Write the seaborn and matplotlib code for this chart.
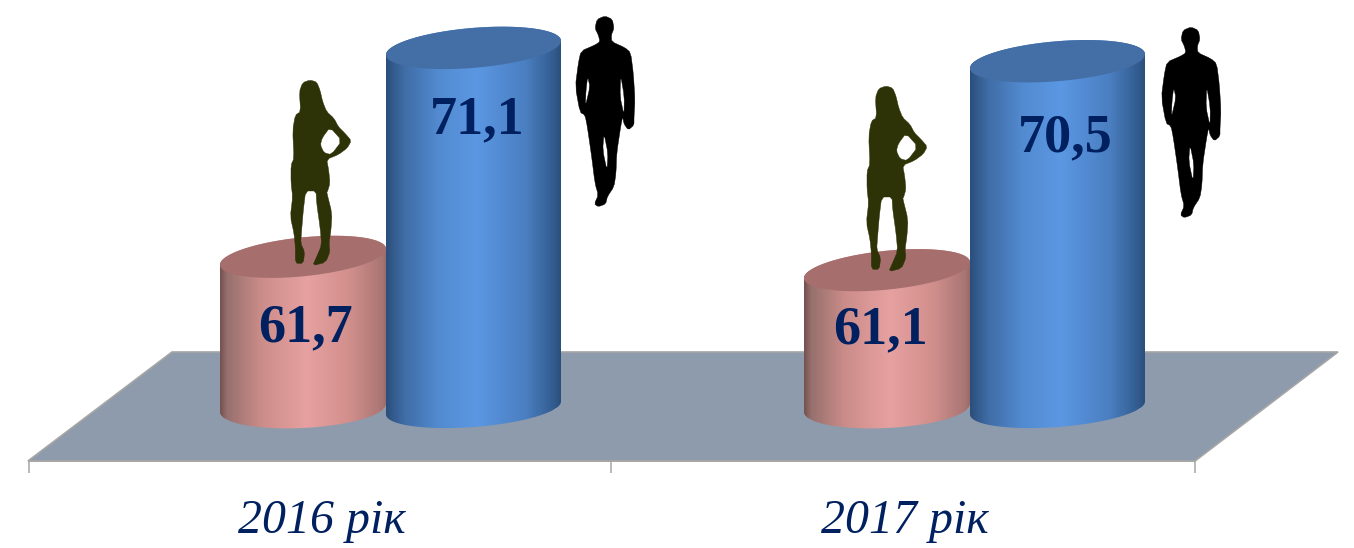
import numpy as np
import pandas as pd
import matplotlib
matplotlib.use('Agg')
import matplotlib.pyplot as plt
import seaborn as sns
from matplotlib.colors import LinearSegmentedColormap
from matplotlib.patches import PathPatch, Polygon
from matplotlib.path import Path

# data
years = ['2016 рік', '2017 рік']
women = [61.7, 61.1]
men = [71.1, 70.5]
value_labels_px = {'Ж': [(306, 328), (880, 330)], 'Ч': [(477, 120), (1065, 138)]}

df = pd.DataFrame({
    'year': years * 2,
    'sex': ['Ж'] * 2 + ['Ч'] * 2,
    'value': women + men,
})

# scale of the picture
W, H = 1354, 548
BASE = 54.9        # value where the cylinders start
BASE_PX = 408
PX_VALUE = 22.23   # pixels per unit of value
PX_CAT = 584       # pixels per category
CAT0_PX = 386


def xd(px):
    return (np.asarray(px, dtype=float) - CAT0_PX) / PX_CAT


def yd(px):
    return BASE + (BASE_PX - np.asarray(px, dtype=float)) / PX_VALUE


sns.set_theme(style='white')
plt.rcParams['font.family'] = ['Liberation Serif', 'DejaVu Serif']
NAVY = '#002060'

fig = plt.figure(figsize=(W / 100, H / 100), dpi=100, facecolor='white')
ax = fig.add_axes([0, 0, 1, 1])

sns.barplot(data=df, x='year', y='value', hue='sex', order=years, hue_order=['Ж', 'Ч'],
            palette=['#e6a1a0', '#5b97e3'], dodge=True, gap=0, width=0.586,
            legend=False, ax=ax, saturation=1)

# floor
floor = Polygon(np.c_[xd([172, 1338, 1195, 28]), yd([352, 352, 461, 461])],
                closed=True, fc='#8e9bac', ec='#a5a5a5', lw=1.2, zorder=0.5)
ax.add_patch(floor)

pink_cmap = LinearSegmentedColormap.from_list('pink', [
    (0, '#74504e'), (0.04, '#96706d'), (0.25, '#cc8d8a'), (0.52, '#e6a1a0'),
    (0.78, '#d18f8c'), (0.97, '#a97674'), (1, '#9a6a68')])
blue_cmap = LinearSegmentedColormap.from_list('blue', [
    (0, '#2b4f7c'), (0.1, '#3f6ca5'), (0.3, '#528bd0'), (0.52, '#5b97e3'),
    (0.8, '#4a7fc1'), (0.96, '#325c90'), (1, '#2b4f7c')])

styles = [
    dict(cmap=pink_cmap, face='#a66f6d', half_w=83 / PX_CAT, b_top=19.5, skew_top=8,
         b_bot=20, skew_bot=4, side='left', z=3),
    dict(cmap=blue_cmap, face='#436fa6', half_w=87.5 / PX_CAT, b_top=20, skew_top=7,
         b_bot=19, skew_bot=6.5, side='right', z=4),
]

for cont, st in zip(ax.containers, styles):
    for bar in cont:
        val = bar.get_height()
        w = st['half_w'] * 2
        # inner edge of the bar stays at the middle of the group
        if st['side'] == 'left':
            x0 = bar.get_x() + bar.get_width() - w
        else:
            x0 = bar.get_x()
        bar.set_x(x0)
        bar.set_width(w)
        bar.set_y(BASE)
        bar.set_height(val - BASE)
        bar.set_zorder(st['z'])
        xc = x0 + w / 2

        # tilted ellipses for the ends of the cylinder
        t = np.linspace(0, 2 * np.pi, 181)
        ex = xc + st['half_w'] * np.cos(t)
        top_y = (st['b_top'] * np.sin(t) + st['skew_top'] * np.cos(t)) / PX_VALUE
        bot_y = (st['b_bot'] * np.sin(t) + st['skew_bot'] * np.cos(t)) / PX_VALUE
        upper = t <= np.pi
        lower = t >= np.pi
        body = np.r_[np.c_[ex[upper], val + top_y[upper]], np.c_[ex[lower], BASE + bot_y[lower]]]
        clip = Polygon(body, closed=True, transform=ax.transData, fc='none', ec='none')
        ax.add_patch(clip)
        bar.set_clip_path(clip)

        grad = np.linspace(0, 1, 256).reshape(1, -1)
        im = ax.imshow(grad, cmap=st['cmap'], aspect='auto', zorder=st['z'] + 0.1,
                       extent=[x0, x0 + w, BASE - 2, val + 2])
        im.set_clip_path(clip)

        ax.fill(ex, val + top_y, fc=st['face'], ec='none', zorder=st['z'] + 0.2)

# silhouettes, traced outline in a local 3x grid
woman_outer = [(300, 30), (320, 36), (330, 60), (338, 95), (350, 125), (372, 145), (385, 170), (405, 190),
               (424, 212), (412, 234), (385, 254), (350, 268), (356, 300), (360, 340), (352, 366), (350, 366),
               (366, 430), (363, 480), (357, 520), (360, 545), (347, 577), (308, 587), (320, 560), (335, 525),
               (330, 470), (320, 400), (318, 363), (287, 363), (280, 420), (275, 480), (272, 520), (284, 545),
               (280, 580), (256, 580), (256, 530), (252, 490), (241, 440), (248, 380), (243, 340), (243, 285),
               (252, 265), (248, 180), (256, 135), (272, 125), (268, 65), (278, 38)]
woman_holes = [[(360, 172), (396, 212), (364, 254), (342, 248), (331, 225), (337, 203)]]
man_outer = [(165, 18), (187, 28), (192, 55), (184, 75), (185, 95), (225, 113), (242, 128), (250, 190),
             (255, 270), (252, 320), (252, 345), (235, 360), (222, 342), (218, 320), (212, 350), (200, 430),
             (198, 490), (192, 530), (172, 560), (167, 582), (145, 590), (133, 582), (145, 555), (135, 520),
             (125, 440), (112, 350), (105, 315), (90, 307), (76, 230), (85, 160), (93, 123), (135, 105),
             (150, 95), (145, 75), (135, 55), (141, 28)]
man_holes = [[(162, 370), (174, 430), (171, 482), (158, 420)],
             [(113, 200), (120, 230), (106, 290), (108, 240)],
             [(212, 195), (223, 260), (222, 315), (210, 260)]]


def smooth(ring):
    # one pass of corner cutting so the traced outline is not angular
    ring = np.array(ring, dtype=float)
    nxt = np.roll(ring, -1, axis=0)
    return np.c_[0.8 * ring + 0.2 * nxt, 0.2 * ring + 0.8 * nxt].reshape(-1, 2)


def area(ring):
    x, y = ring[:, 0], ring[:, 1]
    return 0.5 * np.sum(x * np.roll(y, -1) - np.roll(x, -1) * y)


def silhouette(outer, holes, ox, oy, color):
    verts, codes = [], []
    sign = np.sign(area(np.array(outer, dtype=float)))
    for i, ring in enumerate([outer] + holes):
        ring = smooth(ring)
        # holes must run against the outer ring
        if i > 0 and np.sign(area(ring)) == sign:
            ring = ring[::-1]
        px = np.c_[xd(ox + ring[:, 0] / 3), yd(oy + ring[:, 1] / 3)]
        verts += list(px) + [px[0]]
        codes += [Path.MOVETO] + [Path.LINETO] * (len(px) - 1) + [Path.CLOSEPOLY]
    ax.add_patch(PathPatch(Path(verts, codes), fc=color, ec=color, lw=0.3, joinstyle='round', zorder=6))


silhouette(woman_outer, woman_holes, 210, 70, '#2e3207')
silhouette(woman_outer, woman_holes, 786, 76, '#2e3207')
silhouette(man_outer, man_holes, 550, 10, 'black')
silhouette(man_outer, man_holes, 1136, 21, 'black')

# value labels
for vals, key in [(women, 'Ж'), (men, 'Ч')]:
    for v, (px, py) in zip(vals, value_labels_px[key]):
        ax.text(xd(px), yd(py), f'{v:.1f}'.replace('.', ','), ha='center', va='center',
                fontsize=39, fontweight='bold', color=NAVY, zorder=7)

# axis
ax.set_xlim(xd(0), xd(W))
ax.set_ylim(yd(H), yd(0))
sns.despine(ax=ax, left=True)
ax.set_ylabel('')
ax.set_xlabel('')
ax.set_yticks([])
ax.spines['bottom'].set_position(('data', yd(461.5)))
ax.spines['bottom'].set_color('#a5a5a5')
ax.spines['bottom'].set_linewidth(1.1)
ax.spines['bottom'].set_bounds(xd(29), xd(1195))
ax.set_xticks(xd([29, 611, 1195]), ['', '', ''])
ax.set_xticks(xd([322, 905]), years, minor=True)
ax.tick_params(axis='x', which='major', bottom=True, length=8.5, width=1.1, color='#a5a5a5')
ax.tick_params(axis='x', which='minor', bottom=True, length=0, pad=27, labelsize=34.5, labelcolor=NAVY)
for lab in ax.get_xticklabels(minor=True):
    lab.set_fontstyle('italic')

fig.savefig('out.png', dpi=100, facecolor='white')
plt.close()
